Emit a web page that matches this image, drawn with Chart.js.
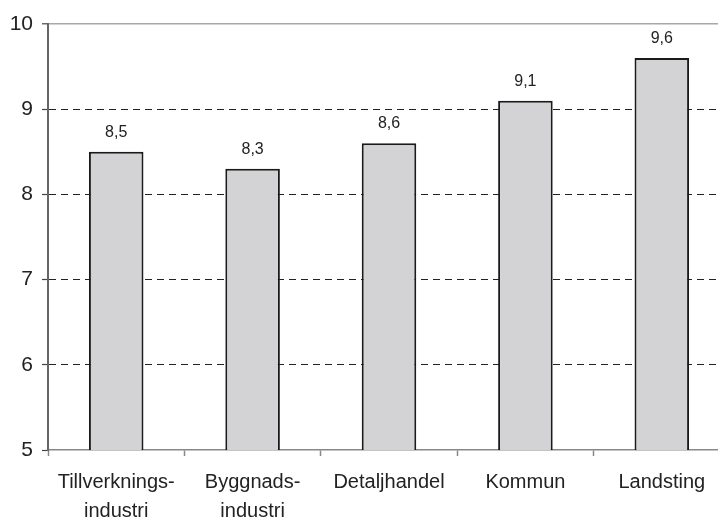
<!DOCTYPE html>
<html>
<head>
<meta charset="utf-8">
<script src="https://cdn.jsdelivr.net/npm/chart.js@4.4.1/dist/chart.umd.min.js"></script>
<style>
  html, body { margin: 0; padding: 0; background: #fff; overflow: hidden; }
  #wrap { width: 718px; height: 518px; overflow: hidden; }
</style>
</head>
<body>
<div id="wrap"><canvas id="mycanvas" width="730" height="518"></canvas></div>
<script>
// categories and values
var categories = [['Tillverknings-', 'industri'], ['Byggnads-', 'industri'], 'Detaljhandel', 'Kommun', 'Landsting'];
var values = [8.5, 8.3, 8.6, 9.1, 9.6];
var yTicks = [5, 6, 7, 8, 9, 10];

var textColor = '#222';
var fontFamily = '"Liberation Sans", Arial, sans-serif';

function fmt(v) {
  return String(v).replace('.', ',');
}

// value labels above each bar
var barLabels = {
  id: 'barLabels',
  afterDatasetsDraw: function(chart) {
    var ctx = chart.ctx;
    var meta = chart.getDatasetMeta(0);
    ctx.save();
    ctx.font = '16px ' + fontFamily;
    ctx.fillStyle = textColor;
    ctx.textAlign = 'center';
    ctx.textBaseline = 'alphabetic';
    meta.data.forEach(function(bar, i) {
      ctx.fillText(fmt(values[i]), bar.x, bar.y - 15);
    });
    ctx.restore();
  }
};

var chartdata = {
  labels: categories,
  datasets: [
    {
      label: 'Värde',
      data: values,
      backgroundColor: '#d3d3d5',
      borderColor: '#1a1a1a',
      borderWidth: 2,
      borderSkipped: 'start',
      barPercentage: 0.4,
      categoryPercentage: 1.0
    }
  ]
};

var ctx = document.getElementById('mycanvas');

var barGraph = new Chart(ctx, {
  type: 'bar',
  data: chartdata,
  plugins: [barLabels],
  options: {
    responsive: false,
    animation: false,
    layout: { padding: { top: 24, left: 0, right: 0, bottom: 0 } },
    plugins: {
      legend: { display: false },
      tooltip: { enabled: false }
    },
    scales: {
      x: {
        offset: true,
        grid: {
          offset: true,
          drawOnChartArea: false,
          drawTicks: true,
          tickLength: 6,
          tickColor: '#888',
          tickWidth: 1.5
        },
        border: { display: true, color: '#888', width: 1.5 },
        ticks: {
          color: textColor,
          padding: 12,
          maxRotation: 0,
          autoSkip: false,
          font: { family: fontFamily, size: 20, lineHeight: 1.45 }
        },
        afterFit: function(scale) { scale.height = 68; }
      },
      y: {
        min: 5,
        max: 10,
        afterBuildTicks: function(scale) {
          scale.ticks = yTicks.map(function(v) { return { value: v }; });
        },
        grid: {
          drawTicks: true,
          tickLength: 6,
          tickColor: '#444',
          tickWidth: 1.2,
          color: function(c) {
            if (!c.tick) return 'rgba(0,0,0,0)';
            if (c.tick.value === 5) return 'rgba(0,0,0,0)';
            if (c.tick.value === 10) return '#a8a8a8';
            return '#222';
          },
          lineWidth: function(c) {
            return c.tick && c.tick.value === 10 ? 1.6 : 1;
          }
        },
        border: {
          display: true,
          color: '#666',
          width: 2,
          dash: function(c) {
            if (c.tick && c.tick.value !== 10 && c.tick.value !== 5) return [7, 5];
            return [];
          }
        },
        ticks: {
          color: textColor,
          padding: 9,
          font: { family: fontFamily, size: 21 },
          callback: function(v) { return fmt(v); }
        },
        afterFit: function(scale) { scale.width = 48; }
      }
    }
  }
});
</script>
</body>
</html>
